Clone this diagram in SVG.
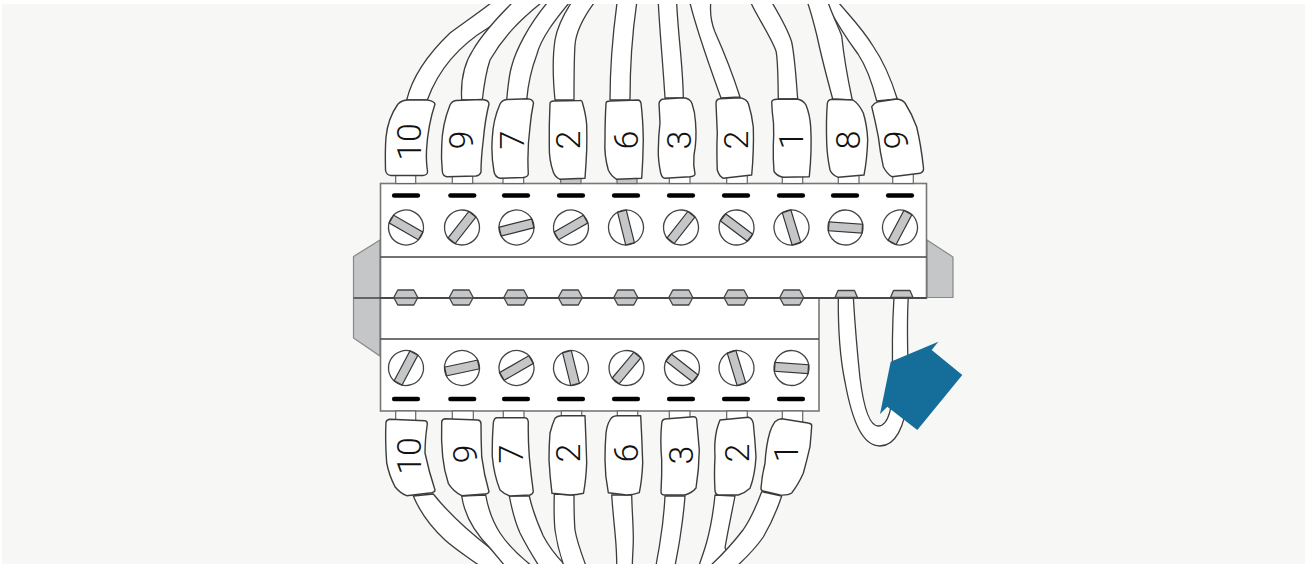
<svg xmlns="http://www.w3.org/2000/svg" width="1311" height="564" viewBox="0 0 1311 564">
<style>
.w{fill:#fff;stroke:#3c3c3c;stroke-width:1.3;stroke-linejoin:round}
.l{fill:#fff;stroke:#3c3c3c;stroke-width:1.4;stroke-linejoin:round}
.s{fill:#fff;stroke:#666;stroke-width:1.2}
.t{font-family:Roboto,"Liberation Sans",Arial,sans-serif;font-weight:300;font-size:34px;fill:#111;text-anchor:middle}
.b{fill:#fff;stroke:#777;stroke-width:1.6}
.d{fill:none;stroke:#444;stroke-width:1.4}
.g{fill:#c5c6c8;stroke:#888;stroke-width:1.2}
.n{fill:#c5c6c8;stroke:#444;stroke-width:1.3;stroke-linejoin:round}
.m{stroke:#000;stroke-width:4.6;stroke-linecap:round;fill:none}
.c{fill:#fff;stroke:#444;stroke-width:1.3}
.o{fill:#c5c6c8;stroke:#333;stroke-width:1.2}
</style>
<defs>
<clipPath id="page"><rect x="2" y="4" width="1303" height="560"/></clipPath>
<g id="screw"><circle class="c" r="17.5"/><rect class="o" x="-16.800" y="-4.500" width="33.600" height="9"/></g>
<polygon id="hex" class="n" points="-12,0 -8,-7.500 8,-7.500 12,0 8,7.500 -8,7.500"/>
<path id="mark" class="m" d="M-11.800,0H11.800"/>
</defs>
<rect width="1311" height="564" fill="#fff"/>
<rect x="2" y="4" width="1303" height="560" fill="#f7f7f5"/>

<g id="connectors" clip-path="url(#page)">
<path class="w" d="M406.700,100C412,78 428,54 450,33C465,22 478,13 491,3L530,3L488,28C465,42 440,65 427.300,100Z"/>
<path class="w" d="M461.700,100C460.500,80 465,62 473,50C480,38 497,18 512,3L541,3C520,20 504,36 490,60C486,72 484,85 482.300,100Z"/>
<path class="w" d="M506.700,100C508,85 509,75 511.700,66C516,50 528,26 547,3L569,3C555,20 541,38 536.700,55C531,70 528,85 526.700,100Z"/>
<path class="w" d="M555,100C553,80 552,60 555,40C557,28 564,14 571,3L594,3C583,18 576,32 575,45C574,60 574,80 574,100Z"/>
<path class="w" d="M610,100C610,70 612,40 617,3L636.700,3C632,35 630,70 630,100Z"/>
<path class="w" d="M665,98C663,65 660,35 658.300,3H676.700C678,35 683,65 683.300,98Z"/>
<path class="w" d="M721,98C711,70 698,35 690,3H710.700C710,12 711,22 715,32C723,50 733,75 740,97Z"/>
<path class="w" d="M778.300,99C778,80 778,60 776,51C771,37 758,18 751,3H772.300C780,16 788,30 791.700,42C795,58 796,78 797.700,99Z"/>
<path class="w" d="M876.700,101C872,82 866,66 858,54C846,38 836,22 826,3H839C848,14 862,28 873,46C884,62 892,82 897.300,99Z"/>
<path class="w" d="M832.700,99C827,78 821,55 817,36C814,24 811,12 807.700,3H828.300C832,14 838,26 841.700,36C844,58 848,80 852.300,100Z"/>
<path class="w" d="M413.300,496C420,512 432,528 445,540C455,549 466,556 480,566L510,566L490,548C472,534 450,515 433.300,494Z"/>
<path class="w" d="M461.700,496C464,512 472,530 490,548L505,566H532C518,555 508,545 500,533C493,522 488,508 485.700,495Z"/>
<path class="w" d="M509.300,496C512,510 515,522 520,533C526,545 532,555 539,566H566C556,556 548,545 543.300,536C537,522 532,508 529.300,496Z"/>
<path class="w" d="M554.300,494C554,505 554,520 555,530C557,544 560,555 564,566H586C582,555 577,542 575,530C574,518 574,505 574,495Z"/>
<path class="w" d="M611.700,495C613,515 615,530 616,545C616.500,553 616.800,560 616.700,566H632.300C632.500,555 633.500,545 633.300,536C633,520 632,510 631.700,495Z"/>
<path class="w" d="M665,496C664,515 662,530 660,542C659,550 657,558 656,566H675C677,555 679,545 680,538C682,525 684,510 685,496Z"/>
<path class="w" d="M715,495C713,515 710,530 706.700,542C704,552 701,559 699,566H735L725,548C728,530 732,512 735,496Z"/>
<path class="w" d="M761.700,491.700C756,507 750,520 743,530C733,543 722,555 710,566H737C748,556 757,546 763.300,537C771,524 777,510 781.700,496Z"/>
<path class="w" d="M838.300,297C838,330 840,358 845,382C852,420 862,446 880,446C895,446 905,428 908,395C909,365 906,335 908.300,297H894C892,330 892,355 893,380C893,405 889,426 878.300,426C868,426 863,402 860,378C857,350 855,325 853.300,297Z"/>
</g>

<g id="top-strip">
<polygon class="g" points="380,240 353.500,256.500 353.500,338 380,356"/>
<polygon class="g" points="927,240 953,257 953,297.500 927,297.500"/>
<rect class="b" x="380.500" y="183.500" width="546" height="114.500"/>
<path class="d" d="M380.500,257H926.500"/>
</g>
<g id="bottom-strip">
<rect class="b" x="380.500" y="298" width="438.500" height="113"/>
<path class="d" d="M380.500,339H819M353.500,298H926.500"/>
</g>

<g id="stubs">
<rect class="s" x="395.700" y="170" width="20" height="13.500"/><rect class="s" x="452.300" y="170" width="20.400" height="13.500"/><rect class="s" x="503" y="170" width="20.700" height="13.500"/><rect class="s" x="560.700" y="170" width="20.300" height="13.500" style="fill:#c5c6c8"/><rect class="s" x="617" y="170" width="20" height="13.500" style="fill:#c5c6c8"/><rect class="s" x="669.300" y="170" width="20.700" height="13.500"/><rect class="s" x="726.700" y="170" width="20.600" height="13.500"/><rect class="s" x="782.300" y="170" width="20.400" height="13.500"/><rect class="s" x="838.300" y="170" width="20.700" height="13.500"/><rect class="s" x="892.700" y="170" width="20.600" height="13.500"/>
<rect class="s" x="395.700" y="411" width="20" height="14"/><rect class="s" x="452.300" y="411" width="21" height="14"/><rect class="s" x="503.300" y="411" width="20.700" height="14"/><rect class="s" x="561.300" y="411" width="20.400" height="14"/><rect class="s" x="617.300" y="411" width="20.400" height="14"/><rect class="s" x="669.300" y="411" width="20.700" height="14"/><rect class="s" x="726.700" y="411" width="20.600" height="14"/><rect class="s" x="782.300" y="411" width="20.400" height="14"/>
</g>

<g id="marks">
<use href="#mark" x="406" y="195.500"/><use href="#mark" x="462.300" y="195.500"/><use href="#mark" x="516" y="195.500"/><use href="#mark" x="571" y="195.500"/><use href="#mark" x="626" y="195.500"/><use href="#mark" x="681" y="195.500"/><use href="#mark" x="736" y="195.500"/><use href="#mark" x="791" y="195.500"/><use href="#mark" x="845" y="195.500"/><use href="#mark" x="900" y="195.500"/>
<use href="#mark" x="406" y="399"/><use href="#mark" x="462.300" y="399"/><use href="#mark" x="516" y="399"/><use href="#mark" x="571" y="399"/><use href="#mark" x="626" y="399"/><use href="#mark" x="681" y="399"/><use href="#mark" x="736" y="399"/><use href="#mark" x="791" y="399"/>
</g>

<g id="screws-top">
<use href="#screw" transform="translate(406,227.500) rotate(30)"/>
<use href="#screw" transform="translate(462,227.500) rotate(-52)"/>
<use href="#screw" transform="translate(516.500,227.500) rotate(-14)"/>
<use href="#screw" transform="translate(571,227.500) rotate(-30)"/>
<use href="#screw" transform="translate(626,227.500) rotate(76)"/>
<use href="#screw" transform="translate(681,227.500) rotate(-52)"/>
<use href="#screw" transform="translate(736.500,227.500) rotate(37)"/>
<use href="#screw" transform="translate(791.500,227.500) rotate(73)"/>
<use href="#screw" transform="translate(845.500,227.500) rotate(4)"/>
<use href="#screw" transform="translate(900,227.500) rotate(-62)"/>
</g>
<g id="screws-bottom">
<use href="#screw" transform="translate(406,368) rotate(-62)"/>
<use href="#screw" transform="translate(462,368) rotate(-12)"/>
<use href="#screw" transform="translate(516.500,368) rotate(-30)"/>
<use href="#screw" transform="translate(571,368) rotate(76)"/>
<use href="#screw" transform="translate(626.500,368) rotate(-50)"/>
<use href="#screw" transform="translate(682,368) rotate(38)"/>
<use href="#screw" transform="translate(736.500,368) rotate(73)"/>
<use href="#screw" transform="translate(791.500,368) rotate(4)"/>
</g>
<g id="nuts">
<use href="#hex" x="405.800" y="297.500"/><use href="#hex" x="461.200" y="297.500"/><use href="#hex" x="515.800" y="297.500"/><use href="#hex" x="570.300" y="297.500"/><use href="#hex" x="625.800" y="297.500"/><use href="#hex" x="680.800" y="297.500"/><use href="#hex" x="736" y="297.500"/><use href="#hex" x="791.700" y="297.500"/>
<polygon class="n" points="835,297.500 838,290.500 854.500,290.500 857.500,297.500"/>
<polygon class="n" points="890.500,297.500 893.500,290.500 910,290.500 913,297.500"/>
<path class="d" d="M380.500,298H926.500"/>
</g>

<g id="label-t10"><path class="l" d="M398,104Q402,100 408,100L427,100Q434,101 435,104Q428,125 426.500,150Q426,162 427.500,171Q428,175 423,175.500L391,175.500Q386,175 385.500,170Q385,150 386,137Q388,118 398,104Z"/><text class="t" transform="translate(420.500,142) rotate(-90)">10</text></g>
<g id="label-t9"><path class="l" d="M450,105Q452,101 456,100.500L482,99.500Q489,100 489,104Q485,120 483.300,140Q481,158 481,172Q480,175.500 476,176L447,176.700Q442.500,176 442.300,171Q441,158 441.700,146Q442,125 450,105Z"/><text class="t" transform="translate(473,140) rotate(-90)">9</text></g>
<g id="label-t7"><path class="l" d="M500,104Q502,100 507,99.500L527,98.700Q533,99 533.500,103Q531,115 530,127Q527,150 528.300,174Q528,177 523,177.500L500,178.300Q495,177 494,171.500Q491,155 492.300,138Q493,120 500,104Z"/><text class="t" transform="translate(524,140) rotate(-90)">7</text></g>
<g id="label-t2"><path class="l" d="M550,104Q550,101 554,101L580,100.500Q582,100 582.500,103Q586,115 586.700,125Q587,138 586.700,150Q586,165 585,178.300L560,179.300Q555,177 553.300,172Q549,160 549.300,146Q549,125 550,104Z"/><text class="t" transform="translate(580,140) rotate(-90)">2</text></g>
<g id="label-t6"><path class="l" d="M606,103.500Q606,101 610,101L638,100Q640,100 641,103Q643,120 643.300,140Q643,160 641.700,178.300L616.700,179.300Q611,176 608.300,170Q604,155 605,140Q605,120 606,103.500Z"/><text class="t" transform="translate(638,140) rotate(-90)">6</text></g>
<g id="label-t3"><path class="l" d="M659,103.500Q660,99 664,99L683,97.700Q690,98 692,103.500Q695,112 695.500,122Q697,140 694,155Q693,165 695,174Q695,176 690,176.700L665,178.300Q662,178 660.700,173Q658,160 658.300,150Q658.500,135 660,123Q659.500,112 659,103.500Z"/><text class="t" transform="translate(691,140) rotate(-90)">3</text></g>
<g id="label-t2b"><path class="l" d="M716,103.500Q716,99 720,98.700L740,97.700Q747,99 748.500,104Q752,115 753.300,127Q754,150 751.700,175L723.300,178.300Q719,176 717.300,170Q716.500,150 717.300,133Q716.500,115 716,103.500Z"/><text class="t" transform="translate(748,140) rotate(-90)">2</text></g>
<g id="label-t1"><path class="l" d="M771.700,102Q772,99.500 777,99.300L797,99Q803,100 806,105Q810,115 810.700,127Q812,150 809.300,176.700L783.300,177.300Q777,176 774,171.500Q773,160 773.300,146Q774,135 773.500,123Q772,112 771.700,102Z"/><text class="t" transform="translate(803,140) rotate(-90)">1</text></g>
<g id="label-t8"><path class="l" d="M827.300,103.500Q828,99.500 832,99.300L853,100Q859,104 863.300,113Q867,125 867.700,140Q867,160 864,175L838.300,177.300Q832,175 830,170Q827,155 826.700,143Q826,120 827.300,103.500Z"/><text class="t" transform="translate(860,140) rotate(-90)">8</text></g>
<g id="label-t9b"><path class="l" d="M871.700,106.700Q874,103 878.300,101.700L897,99Q902,99.500 905,103Q912,114 916.700,127Q921,145 923.500,168Q924,172 920,173.300L892,176.700Q887,174 883.300,166.700Q880,152 878.300,136.700Q875,120 871.700,106.700Z"/><text class="t" transform="translate(908,140) rotate(-90)">9</text></g>

<g id="label-b10"><path class="l" d="M386,422Q387,419.500 390,419.300L425,420.700Q427.500,421 427.300,424Q425,440 425,453Q429,472 435,490Q435,492 431.700,492.700L406.700,495.700Q400,493 395,486.700Q389,475 386.700,463Q385,440 386,422Z"/><text class="t" transform="translate(421,456) rotate(-90)">10</text></g>
<g id="label-b9"><path class="l" d="M441.700,422Q442,419 445,418.700L478,420Q481,420.500 481,424Q481,440 481.700,456.700Q484,475 489,491.700Q488,494 485,494L461.700,495.700Q453,491 448.300,483.300Q444,470 442.700,456.700Q441,440 441.700,422Z"/><text class="t" transform="translate(477,454) rotate(-90)">9</text></g>
<g id="label-b7"><path class="l" d="M493.300,423Q494,418 496.500,417.700L525,417.700Q528,418 528.300,422Q528,440 529.300,456.700Q531,475 533.300,491.500Q533,494 530,495L510,496Q504,494 500,490Q494,475 492.300,456.700Q492,440 493.300,423Z"/><text class="t" transform="translate(523,454) rotate(-90)">7</text></g>
<g id="label-b2"><path class="l" d="M550,433Q552,425 555,418.300Q557,416 561,415.700L585,415.700Q586,440 586.700,463Q586,480 583.500,493.300Q577,495 570,495L552,493.300Q550,478 549,460Q549,445 550,433Z"/><text class="t" transform="translate(580,453) rotate(-90)">2</text></g>
<g id="label-b6"><path class="l" d="M606,433Q607,425 610,420Q612,416 617,415.700L640.700,415.700Q642,440 642.700,463Q642,480 639.300,492.700Q633,495 626.700,495L608.300,492.700Q605,476 605,460Q605,445 606,433Z"/><text class="t" transform="translate(638,453) rotate(-90)">6</text></g>
<g id="label-b3"><path class="l" d="M661.700,423.500Q662,419.500 665,419L693.300,416.700Q696.500,416.500 696.700,420Q698,435 699.300,450Q699,470 696,488Q692,493 685,495L665,495Q661,495 661,491.700Q662,475 661.700,460Q660,440 661.700,423.500Z"/><text class="t" transform="translate(693,455) rotate(-90)">3</text></g>
<g id="label-b2b"><path class="l" d="M716.700,430Q718,425 720,420L748.300,417.300Q752,418 753.300,423.300Q755,440 756,456.700Q755,475 750,488.300Q745,493 738.300,495L718.300,495Q715,494 715,490Q714,475 715,456.700Q714,442 716.700,430Z"/><text class="t" transform="translate(749,453) rotate(-90)">2</text></g>
<g id="label-b1"><path class="l" d="M770,431.700Q772,426 775,421.700Q778,419 781.700,418.700L808,423Q812,423.500 811.700,426Q811,436 810,446.700Q807,460 803.300,473.300Q798,485 791.700,493Q788,495.500 780,495L763,491Q760.500,490 761,488Q762,475 765,463.300Q766,445 770,431.700Z"/><text class="t" transform="translate(798,453) rotate(-90)">1</text></g>

<polygon id="pointer" fill="#146e99" points="938.300,341.700 931.700,350 962.300,375 917.300,430 887.300,406.700 880,414 890.700,361.700"/>
</svg>
